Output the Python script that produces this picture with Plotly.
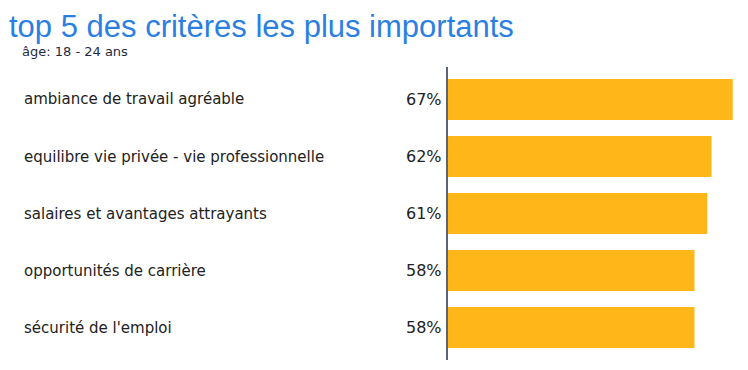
import plotly.graph_objects as go

categories = [
    "ambiance de travail agréable",
    "equilibre vie privée - vie professionnelle",
    "salaires et avantages attrayants",
    "opportunités de carrière",
    "sécurité de l'emploi",
]
values = [67, 62, 61, 58, 58]
title = "top 5 des critères les plus importants"
subtitle = "âge: 18 - 24 ans"

OFF = 8  # default page body margin
W, H = 748 - OFF, 370 - OFF
L, R, T, B = 448 - OFF, 10, 67 - OFF, 10 - 0
pw = W - L - R
ph = H - T - B


def px_x(x):
    return (x - OFF - L) / pw


def px_y(y):
    return 1 + (T - (y - OFF)) / ph


fig = go.Figure()
fig.add_trace(go.Bar(
    x=values, y=list(range(len(values))), orientation="h",
    marker=dict(color="#FFB619", line=dict(width=0)),
    width=0.72, hoverinfo="skip",
))

annotations = []
for i, (c, v) in enumerate(zip(categories, values)):
    annotations.append(dict(
        x=px_x(22), xref="paper", y=i, yref="y", text=c, showarrow=False,
        xanchor="left", yanchor="middle",
        font=dict(family="DejaVu Sans", size=15, color="#222222")))
    annotations.append(dict(
        x=px_x(444), xref="paper", y=i, yref="y", text=f"{v}%", showarrow=False,
        xanchor="right", yanchor="middle",
        font=dict(family="DejaVu Sans", size=16, color="#222222")))

annotations.append(dict(
    x=px_x(8), xref="paper", y=px_y(OFF), yref="paper",
    text=title, showarrow=False, xanchor="left", yanchor="top",
    borderpad=0, font=dict(family="Liberation Sans", size=31, color="#2B7FE0")))
annotations.append(dict(
    x=px_x(20), xref="paper", y=px_y(51), yref="paper",
    text=subtitle, showarrow=False, xanchor="left", yanchor="middle",
    font=dict(family="DejaVu Sans", size=13, color="#1F2A44")))

fig.update_layout(
    width=W, height=H,
    margin=dict(l=L, r=R, t=T, b=B),
    paper_bgcolor="white", plot_bgcolor="white",
    showlegend=False,
    xaxis=dict(range=[0, pw / 4.25], showgrid=False, zeroline=False,
               showticklabels=False, showline=False),
    yaxis=dict(range=[4.57, -0.57], showgrid=False, zeroline=False,
               showticklabels=False, showline=True, linecolor="#5A6378",
               linewidth=2, ticks=""),
    annotations=annotations,
)

fig.write_html("out.html")
